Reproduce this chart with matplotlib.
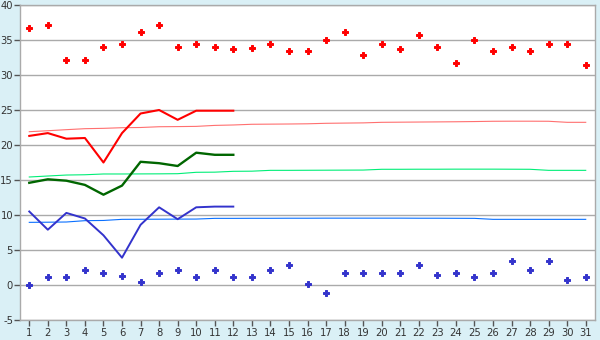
import matplotlib
matplotlib.use('Agg')
import matplotlib.pyplot as plt
import numpy as np

plt.rcParams['axes.unicode_minus'] = False

days = list(range(1, 32))

# daily scatter series
red_points = [36.7, 37.2, 32.2, 32.2, 34.0, 34.4, 36.1, 37.2, 34.0, 34.4,
              34.0, 33.7, 33.8, 34.4, 33.4, 33.4, 35.0, 36.1, 32.8, 34.4,
              33.7, 35.7, 34.0, 31.7, 35.0, 33.4, 34.0, 33.4, 34.4, 34.4, 31.5]
blue_points = [0.0, 1.1, 1.1, 2.2, 1.7, 1.3, 0.4, 1.7, 2.2, 1.1,
               2.1, 1.1, 1.1, 2.2, 2.9, 0.2, -1.1, 1.7, 1.7, 1.7,
               1.7, 2.8, 1.4, 1.7, 1.1, 1.7, 3.5, 2.2, 3.4, 0.7, 1.1]

# thick lines, first 12 days only
red_line = [21.3, 21.7, 20.9, 21.0, 17.5, 21.7, 24.5, 25.0, 23.6, 24.9, 24.9, 24.9]
green_line = [14.6, 15.1, 14.9, 14.3, 12.9, 14.2, 17.6, 17.4, 17.0, 18.9, 18.6, 18.6]
blue_line = [10.5, 7.9, 10.3, 9.5, 7.1, 3.9, 8.6, 11.1, 9.4, 11.1, 11.2, 11.2]

# thin reference lines
pink_ref = [21.9, 22.04, 22.19, 22.33, 22.38, 22.47, 22.5, 22.61, 22.63, 22.66,
            22.8, 22.86, 22.96, 22.98, 23.0, 23.03, 23.1, 23.13, 23.16, 23.24,
            23.26, 23.28, 23.3, 23.32, 23.35, 23.39, 23.4, 23.4, 23.39, 23.24, 23.24]
green_ref = [15.43, 15.57, 15.71, 15.75, 15.86, 15.86, 15.87, 15.88, 15.9, 16.1,
             16.12, 16.24, 16.26, 16.38, 16.38, 16.39, 16.4, 16.41, 16.42, 16.53,
             16.53, 16.54, 16.54, 16.55, 16.55, 16.55, 16.54, 16.53, 16.38, 16.38, 16.38]
blue_ref = [8.95, 8.97, 9.0, 9.19, 9.22, 9.38, 9.39, 9.4, 9.41, 9.42,
            9.52, 9.52, 9.53, 9.53, 9.54, 9.54, 9.55, 9.55, 9.55, 9.55,
            9.55, 9.54, 9.54, 9.53, 9.52, 9.38, 9.38, 9.38, 9.38, 9.38, 9.38]

bg = '#daf0f6'
grid_c = '#aaaaaa'

fig = plt.figure(figsize=(6, 3.4), dpi=100, facecolor=bg)
ax = fig.add_axes([20/600, 1-320/340, 575/600, 315/340])
ax.set_facecolor('white')

ax.plot(days, pink_ref, color='#ff7070', lw=0.8, zorder=2)
ax.plot(days, green_ref, color='#00ee77', lw=0.8, zorder=2)
ax.plot(days, blue_ref, color='#0a70ff', lw=0.8, zorder=2)

d12 = days[:12]
ax.plot(d12, red_line, color='#ff0000', lw=1.5, zorder=3)
ax.plot(d12, green_line, color='#006600', lw=1.7, zorder=3)
ax.plot(d12, blue_line, color='#3333cc', lw=1.4, zorder=3)

ax.plot(days, red_points, ls='none', marker='P', ms=4, color='#ff0000',
        mew=0.7, mec='#ff0000', zorder=4)
ax.plot(days, blue_points, ls='none', marker='P', ms=4, color='#3333cc',
        mew=0.7, mec='#3333cc', zorder=4)

ax.set_xlim(0.5, 31.5)
ax.set_ylim(-5, 40)
ax.set_xticks(days)
ax.set_yticks(np.arange(-5, 41, 5))
ax.yaxis.grid(True, color=grid_c, lw=1.0)
ax.set_axisbelow(True)
for s in ax.spines.values():
    s.set_color(grid_c)
    s.set_linewidth(1.0)
ax.tick_params(axis='both', colors='#333333', labelsize=7.2, length=4, width=1,
               direction='out', pad=2)
ax.tick_params(axis='both', color='#555555')
ax.tick_params(axis='y', pad=1)

fig.savefig('out.png', dpi=100, facecolor=bg)
